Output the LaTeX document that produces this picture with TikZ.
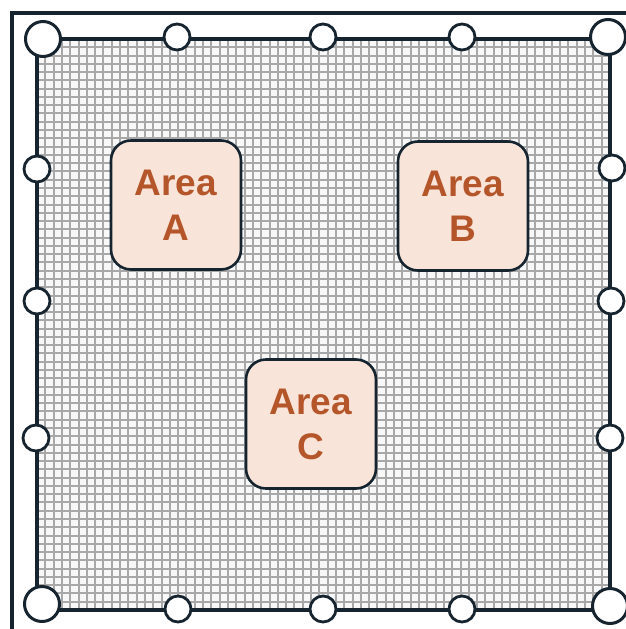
\documentclass[tikz,border=0pt]{standalone}
\usepackage{fontspec}
\setmainfont{Liberation Sans}
\definecolor{frame}{HTML}{16242F}
\definecolor{gridline}{HTML}{A8A8A8}
\definecolor{gridbg}{HTML}{F8F8F8}
\definecolor{boxfill}{HTML}{F9E4D9}
\definecolor{areatext}{HTML}{B5562A}
\tikzset{
  bigdot/.style={circle,draw=frame,fill=white,line width=3pt,minimum size=35pt,inner sep=0pt},
  smalldot/.style={circle,draw=frame,fill=white,line width=2.8pt,minimum size=26pt,inner sep=0pt},
  areabox/.style={rectangle,rounded corners=20pt,draw=frame,fill=boxfill,line width=2.6pt,
    minimum width=130pt,minimum height=129pt,align=center,text=areatext,
    font=\fontsize{37}{45}\selectfont\bfseries},
}
\begin{document}
\begin{tikzpicture}[x=1pt,y=1pt]
\useasboundingbox (0,0) rectangle (625,-629);
\fill[white] (0,0) rectangle (625,-629);
% outer frame
\draw[frame,line width=3.4pt] (12,-700) -- (12,-13) -- (700,-13);
% grid area
\fill[gridbg] (37,-39) rectangle (610,-610);
\foreach \i in {1,...,68} {
  \pgfmathsetmacro{\gx}{37+\i*8.3043}
  \pgfmathsetmacro{\gy}{-39-\i*8.2754}
  \draw[gridline,line width=2pt] (\gx,-39) -- (\gx,-610);
  \draw[gridline,line width=2pt] (37,\gy) -- (610,\gy);
}
\draw[frame,line width=3.4pt] (37,-39) rectangle (610,-610);
% corner circles
\node[bigdot] (tl) at (43,-39) {};
\node[bigdot] (tr) at (608,-37) {};
\node[bigdot] (bl) at (42,-604) {};
\node[bigdot] (br) at (610,-606) {};
% top and bottom circles
\node[smalldot] (t1) at (177,-37) {};
\node[smalldot] (t2) at (323,-37) {};
\node[smalldot] (t3) at (462,-37) {};
\node[smalldot] (b1) at (178,-609) {};
\node[smalldot] (b2) at (323,-609) {};
\node[smalldot] (b3) at (462,-609) {};
% left and right circles
\node[smalldot] (l1) at (37,-169) {};
\node[smalldot] (l2) at (37,-301) {};
\node[smalldot] (l3) at (36,-438) {};
\node[smalldot] (r1) at (612,-168) {};
\node[smalldot] (r2) at (611,-301) {};
\node[smalldot] (r3) at (610,-438) {};
% areas
\node[areabox] (A) at (176,-205) {Area\\A};
\node[areabox] (B) at (463,-206) {Area\\B};
\node[areabox] (C) at (311,-424) {Area\\C};
\end{tikzpicture}
\end{document}
